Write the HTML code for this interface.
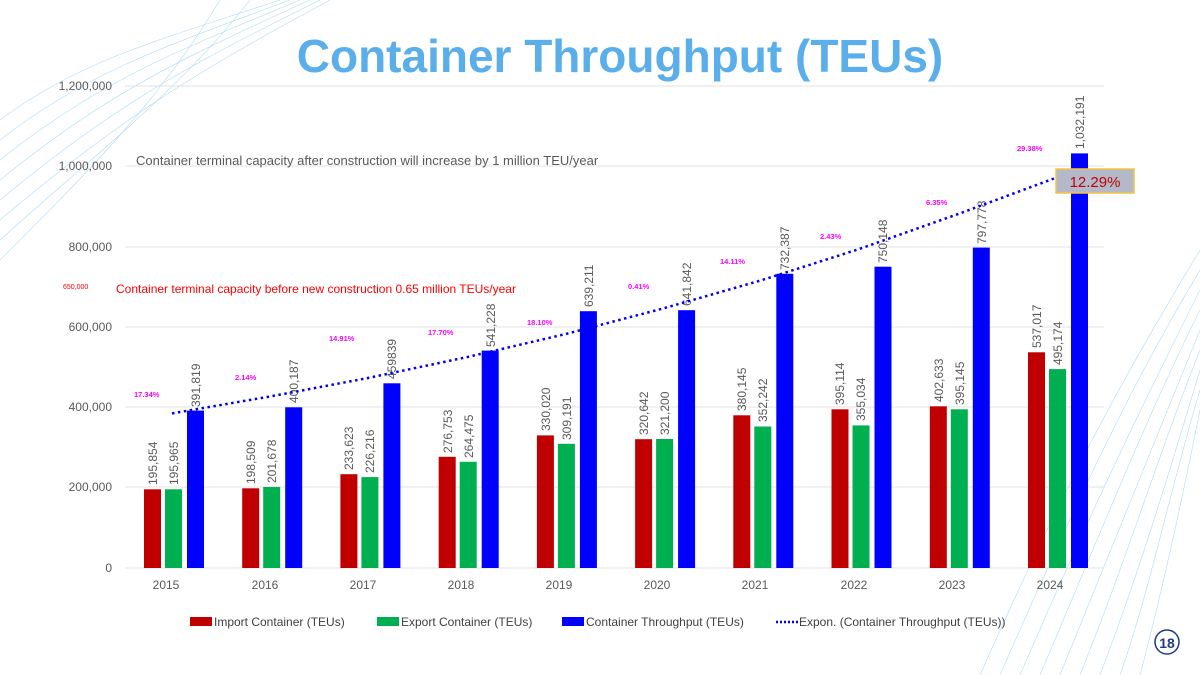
<!DOCTYPE html>
<html><head><meta charset="utf-8"><style>
html,body{margin:0;padding:0;background:#fff}
svg{display:block;font-family:"Liberation Sans",sans-serif}
</style></head><body>
<svg width="1200" height="675" viewBox="0 0 1200 675" xmlns="http://www.w3.org/2000/svg">
<g fill="none" stroke="#7cc4ee" stroke-width="0.6" opacity="0.6">
<path d="M0 120 C80 60 160 40 280 0"/><path d="M0 140 C90 70 170 45 290 0"/><path d="M0 160 C100 80 180 50 300 0"/><path d="M0 180 C110 90 190 55 310 0"/><path d="M0 200 C120 100 200 60 320 0"/><path d="M0 220 C130 110 210 65 330 0"/><path d="M0 240 C100 150 180 90 250 0"/><path d="M0 260 C90 170 160 100 220 0"/>
<path d="M1200 250 C1140 350 1080 450 980 675"/><path d="M1200 270 C1140 370 1090 470 1000 675"/><path d="M1200 290 C1150 390 1100 490 1020 675"/><path d="M1200 310 C1150 410 1110 510 1040 675"/><path d="M1200 330 C1160 430 1120 530 1060 675"/><path d="M1200 350 C1160 450 1130 550 1080 675"/><path d="M1200 370 C1170 470 1140 570 1100 675"/><path d="M1200 390 C1170 490 1150 590 1120 675"/><path d="M1200 410 C1180 510 1160 600 1140 675"/>
</g>
<text x="620" y="72" text-anchor="middle" font-size="46" font-weight="bold" fill="#5aaeea">Container Throughput (TEUs)</text>
<g stroke="#e3e3e3" stroke-width="1">
<line x1="125" y1="86" x2="1104" y2="86"/><line x1="125" y1="166" x2="1104" y2="166"/><line x1="125" y1="247" x2="1104" y2="247"/><line x1="125" y1="327" x2="1104" y2="327"/><line x1="125" y1="407" x2="1104" y2="407"/><line x1="125" y1="487" x2="1104" y2="487"/><line x1="125" y1="568" x2="1104" y2="568"/>
</g>
<g font-size="12" fill="#595959" text-anchor="end">
<text x="112" y="90">1,200,000</text><text x="112" y="170">1,000,000</text><text x="112" y="251">800,000</text><text x="112" y="331">600,000</text><text x="112" y="411">400,000</text><text x="112" y="491">200,000</text><text x="112" y="572">0</text>
</g>
<g font-size="12" fill="#595959" text-anchor="middle">
<text x="166" y="589">2015</text><text x="265" y="589">2016</text><text x="363" y="589">2017</text><text x="461" y="589">2018</text><text x="559" y="589">2019</text><text x="657" y="589">2020</text><text x="755" y="589">2021</text><text x="854" y="589">2022</text><text x="952" y="589">2023</text><text x="1050" y="589">2024</text>
</g>
<g>
<rect x="144" y="489.3" width="17" height="78.7" fill="#c00000"/><rect x="165" y="489.3" width="17" height="78.7" fill="#00b050"/><rect x="187" y="410.6" width="17" height="157.4" fill="#0000ff"/>
<rect x="242.2" y="488.3" width="17" height="79.7" fill="#c00000"/><rect x="263.2" y="487" width="17" height="81" fill="#00b050"/><rect x="285.2" y="407.3" width="17" height="160.7" fill="#0000ff"/>
<rect x="340.4" y="474.2" width="17" height="93.8" fill="#c00000"/><rect x="361.4" y="477.1" width="17" height="90.9" fill="#00b050"/><rect x="383.4" y="383.3" width="17" height="184.7" fill="#0000ff"/>
<rect x="438.7" y="456.8" width="17" height="111.2" fill="#c00000"/><rect x="459.7" y="461.8" width="17" height="106.2" fill="#00b050"/><rect x="481.7" y="350.6" width="17" height="217.4" fill="#0000ff"/>
<rect x="536.9" y="435.4" width="17" height="132.6" fill="#c00000"/><rect x="557.9" y="443.8" width="17" height="124.2" fill="#00b050"/><rect x="579.9" y="311.2" width="17" height="256.8" fill="#0000ff"/>
<rect x="635.1" y="439.2" width="17" height="128.8" fill="#c00000"/><rect x="656.1" y="439" width="17" height="129" fill="#00b050"/><rect x="678.1" y="310.2" width="17" height="257.8" fill="#0000ff"/>
<rect x="733.3" y="415.3" width="17" height="152.7" fill="#c00000"/><rect x="754.3" y="426.5" width="17" height="141.5" fill="#00b050"/><rect x="776.3" y="273.8" width="17" height="294.2" fill="#0000ff"/>
<rect x="831.5" y="409.3" width="17" height="158.7" fill="#c00000"/><rect x="852.5" y="425.4" width="17" height="142.6" fill="#00b050"/><rect x="874.5" y="266.7" width="17" height="301.3" fill="#0000ff"/>
<rect x="929.8" y="406.3" width="17" height="161.7" fill="#c00000"/><rect x="950.8" y="409.3" width="17" height="158.7" fill="#00b050"/><rect x="972.8" y="247.6" width="17" height="320.4" fill="#0000ff"/>
<rect x="1028" y="352.3" width="17" height="215.7" fill="#c00000"/><rect x="1049" y="369.1" width="17" height="198.9" fill="#00b050"/><rect x="1071" y="153.4" width="17" height="414.6" fill="#0000ff"/>
</g>
<g font-size="12" fill="#595959">
<text transform="translate(157,485) rotate(-90)">195,854</text><text transform="translate(178,485) rotate(-90)">195,965</text><text transform="translate(200,407) rotate(-90)">391,819</text>
<text transform="translate(255,484) rotate(-90)">198,509</text><text transform="translate(276,483) rotate(-90)">201,678</text><text transform="translate(298,403) rotate(-90)">400,187</text>
<text transform="translate(353,470) rotate(-90)">233,623</text><text transform="translate(374,473) rotate(-90)">226,216</text><text transform="translate(396,379) rotate(-90)">459839</text>
<text transform="translate(452,453) rotate(-90)">276,753</text><text transform="translate(473,458) rotate(-90)">264,475</text><text transform="translate(495,347) rotate(-90)">541,228</text>
<text transform="translate(550,431) rotate(-90)">330,020</text><text transform="translate(571,440) rotate(-90)">309,191</text><text transform="translate(593,307) rotate(-90)">639,211</text>
<text transform="translate(648,435) rotate(-90)">320,642</text><text transform="translate(669,435) rotate(-90)">321,200</text><text transform="translate(691,306) rotate(-90)">641,842</text>
<text transform="translate(746,411) rotate(-90)">380,145</text><text transform="translate(767,422) rotate(-90)">352,242</text><text transform="translate(789,270) rotate(-90)">732,387</text>
<text transform="translate(844,405) rotate(-90)">395,114</text><text transform="translate(865,421) rotate(-90)">355,034</text><text transform="translate(887,263) rotate(-90)">750,148</text>
<text transform="translate(943,402) rotate(-90)">402,633</text><text transform="translate(964,405) rotate(-90)">395,145</text><text transform="translate(986,244) rotate(-90)">797,778</text>
<text transform="translate(1041,348) rotate(-90)">537,017</text><text transform="translate(1062,365) rotate(-90)">495,174</text><text transform="translate(1084,149) rotate(-90)">1,032,191</text>
</g>
<polyline fill="none" stroke="#0000ee" stroke-width="2.5" stroke-dasharray="2.5 3.5" points="172,413.4 270,396.5 368,378 467,357.1 565,334.2 663,308.5 761,280.4 859,249.1 958,214.1 1058,177"/>
<g font-size="7.5" font-weight="bold" fill="#ff00ff">
<text x="134" y="397">17.34%</text><text x="235" y="380">2.14%</text><text x="329" y="341">14.91%</text><text x="428" y="335">17.70%</text><text x="527" y="325">18.10%</text><text x="628" y="289">0.41%</text><text x="720" y="264">14.11%</text><text x="820" y="239">2.43%</text><text x="926" y="205">6.35%</text><text x="1017" y="151">29.38%</text>
</g>
<text x="136" y="165" font-size="13" fill="#595959">Container terminal capacity after construction will increase by 1 million TEU/year</text>
<text x="63" y="289" font-size="7" fill="#ff0000">650,000</text>
<text x="116" y="293" font-size="12" fill="#ff0000">Container terminal capacity before new construction  0.65 million TEUs/year</text>
<rect x="1056" y="169" width="78" height="24" fill="#b3b9c8" stroke="#f5c542" stroke-width="1.5"/>
<text x="1095" y="187" text-anchor="middle" font-size="15" fill="#c00000">12.29%</text>
<g font-size="12" fill="#404040">
<rect x="190" y="617" width="22" height="9" fill="#c00000"/><text x="214" y="626">Import Container (TEUs)</text>
<rect x="377" y="617" width="22" height="9" fill="#00b050"/><text x="401" y="626">Export Container (TEUs)</text>
<rect x="562" y="617" width="22" height="9" fill="#0000ff"/><text x="586" y="626">Container Throughput (TEUs)</text>
<line x1="776" y1="622" x2="798" y2="622" stroke="#0000ee" stroke-width="2.5" stroke-dasharray="2 2"/><text x="799" y="626">Expon. (Container Throughput (TEUs))</text>
</g>
<circle cx="1167" cy="642" r="12" fill="#fff" stroke="#1f3c88" stroke-width="1.5"/>
<text x="1167" y="648" text-anchor="middle" font-size="14" font-weight="bold" fill="#1f3c88">18</text>
</svg>
</body></html>
